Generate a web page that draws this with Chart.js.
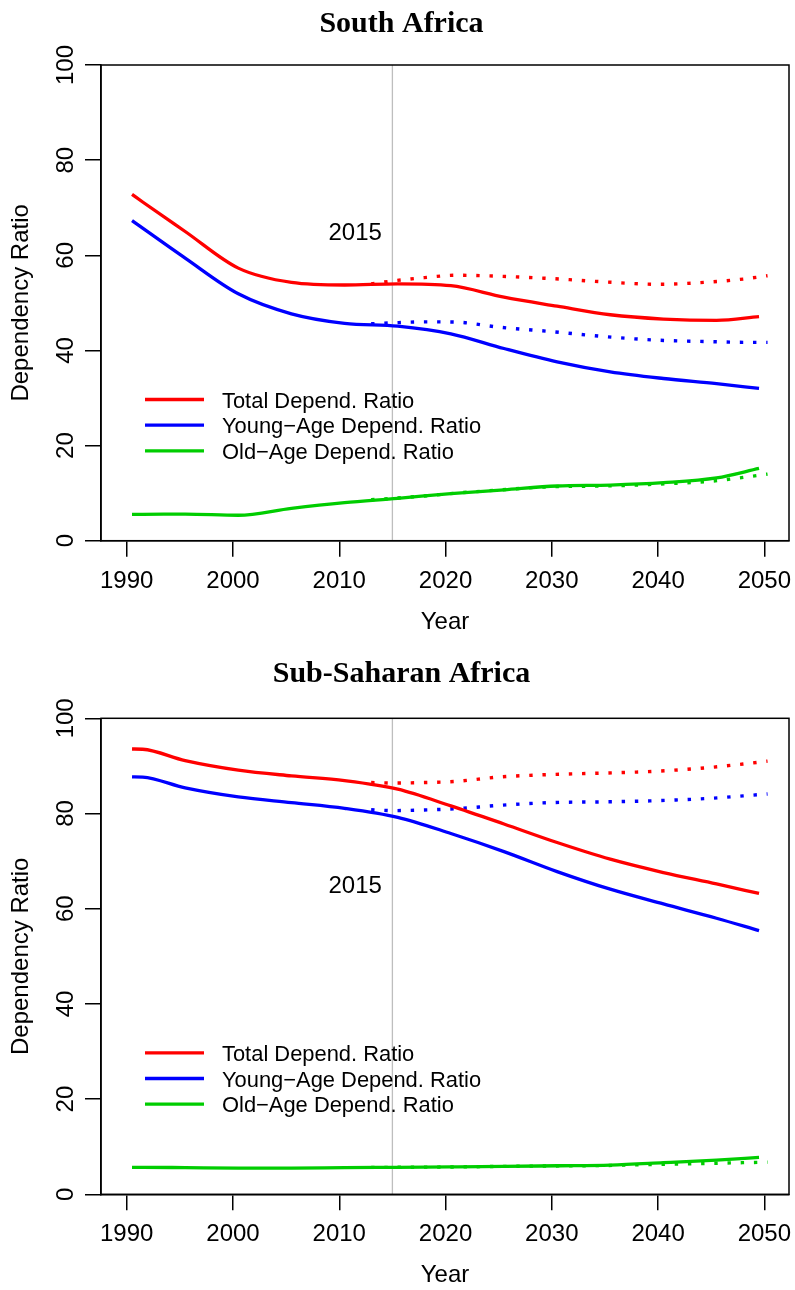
<!DOCTYPE html>
<html>
<head>
<meta charset="utf-8">
<script src="https://cdn.jsdelivr.net/npm/chart.js@4.4.1/dist/chart.umd.min.js"></script>
<style>
  html, body { margin: 0; padding: 0; background: #fff; }
  .wrap { position: relative; width: 795px; height: 645px; }
  canvas { display: block; }
</style>
</head>
<body>
<div class="wrap"><canvas id="saChart" width="795" height="645"></canvas></div>
<div class="wrap"><canvas id="ssaChart" width="795" height="645"></canvas></div>
<script>
const xTicks = [1990, 2000, 2010, 2020, 2030, 2040, 2050];
const yTicks = [0, 20, 40, 60, 80, 100];
const seriesLabels = ["Total Depend. Ratio", "Young\u2212Age Depend. Ratio", "Old\u2212Age Depend. Ratio"];
const seriesColors = ["#FF0000", "#0000FF", "#00CD00"];
const markYear = 2015;
const markLabel = "2015";

const pastYears = [1990.5, 1991.5, 1995.5, 2000.5, 2005.5, 2010.5, 2015.5, 2020.5, 2025.5, 2030.5, 2035.5, 2040.5, 2045.5, 2049.5];
const projYears = [2013, 2015, 2018, 2021, 2025, 2030, 2035, 2040, 2045, 2048, 2050.3];

// South Africa
const saTotal = [72.8, 71.2, 65.0, 57.3, 54.3, 53.75, 54.0, 53.6, 51.2, 49.3, 47.5, 46.6, 46.3, 47.1];
const saYoung = [67.3, 65.7, 59.4, 51.9, 47.7, 45.7, 45.1, 43.5, 40.4, 37.6, 35.5, 34.1, 33.0, 32.0];
const saOld   = [5.55, 5.55, 5.6, 5.35, 6.8, 8.0, 8.9, 9.9, 10.7, 11.5, 11.7, 12.2, 13.2, 15.2];
const saTotalProj = [54.0, 54.6, 55.3, 55.8, 55.6, 55.1, 54.4, 53.9, 54.4, 55.0, 55.7];
const saYoungProj = [45.6, 45.8, 46.0, 45.95, 44.9, 43.95, 42.9, 42.15, 41.85, 41.7, 41.7];
const saOldProj   = [8.6, 8.9, 9.4, 10.0, 10.65, 11.35, 11.5, 11.9, 12.5, 13.3, 14.0];

// Sub-Saharan Africa
const ssaTotal = [93.55, 93.5, 91.1, 89.1, 87.9, 86.9, 85.1, 81.6, 77.8, 73.9, 70.4, 67.6, 65.2, 63.2];
const ssaYoung = [87.7, 87.65, 85.4, 83.5, 82.3, 81.1, 79.2, 75.8, 72.0, 67.8, 64.1, 61.0, 58.0, 55.4];
const ssaOld   = [5.67, 5.67, 5.6, 5.5, 5.5, 5.6, 5.67, 5.75, 5.85, 6.0, 6.15, 6.65, 7.2, 7.75];
const ssaTotalProj = [86.5, 86.4, 86.5, 86.75, 87.65, 88.2, 88.5, 88.9, 89.7, 90.4, 91.0];
const ssaYoungProj = [80.8, 80.6, 80.75, 81.0, 81.7, 82.3, 82.45, 82.7, 83.2, 83.7, 84.1];
const ssaOldProj   = [5.65, 5.67, 5.7, 5.75, 5.85, 5.95, 6.05, 6.3, 6.5, 6.65, 6.75];

const SANS = "'Liberation Sans', Arial, sans-serif";
const SERIF = "'Liberation Serif', 'Times New Roman', serif";

function pts(xs, ys) { return xs.map((x, i) => ({ x: x, y: ys[i] })); }

// extras R draws that Chart.js doesn't: box, rotated y labels, title, 2015 note, legend
const rDecor = {
  id: "rDecor",
  afterDraw(chart, args, o) {
    const c = chart.ctx, ca = chart.chartArea, sx = chart.scales.x, sy = chart.scales.y;
    c.save();
    c.strokeStyle = "#000";
    c.lineWidth = 1.5;
    c.strokeRect(ca.left, ca.top, ca.right - ca.left, ca.bottom - ca.top);

    c.fillStyle = "#000";
    c.font = "24px " + SANS;
    c.textAlign = "center";
    c.textBaseline = "alphabetic";
    yTicks.forEach(v => {
      c.save();
      c.translate(ca.left - 28.5, sy.getPixelForValue(v));
      c.rotate(-Math.PI / 2);
      c.fillText(String(v), 0, 0);
      c.restore();
    });

    c.fillText(markLabel, sx.getPixelForValue(2011.5), sy.getPixelForValue(63.2));

    c.font = "bold 30px " + SERIF;
    c.fillText(o.title, 401.5, o.titleY);

    c.font = "21.9px " + SANS;
    c.textAlign = "left";
    seriesLabels.forEach((lab, i) => {
      const y = ca.top + 334.5 + i * 25.7;
      c.strokeStyle = seriesColors[i];
      c.lineWidth = 3.3;
      c.beginPath();
      c.moveTo(ca.left + 44, y);
      c.lineTo(ca.left + 103, y);
      c.stroke();
      c.fillText(lab, ca.left + 121, y + 8.2);
    });
    c.restore();
  }
};

function makeChart(id, title, lay, past, proj) {
  const ctx = document.getElementById(id).getContext("2d");
  const datasets = [];
  past.forEach((ys, i) => datasets.push({
    label: seriesLabels[i], data: pts(pastYears, ys), borderColor: seriesColors[i],
    borderWidth: 3.3, pointRadius: 0, cubicInterpolationMode: "monotone", fill: false, order: 1
  }));
  proj.forEach((ys, i) => datasets.push({
    label: seriesLabels[i] + " (proj.)", data: pts(projYears, ys), borderColor: seriesColors[i],
    borderWidth: 3.4, borderDash: [3.4, 9.8], pointRadius: 0, cubicInterpolationMode: "monotone", fill: false, order: 2
  }));
  datasets.push({
    label: "mark", data: [{ x: markYear, y: 0 }, { x: markYear, y: 100 }],
    borderColor: "#BEBEBE", borderWidth: 1.3, pointRadius: 0, fill: false, order: 10
  });

  const axisFont = { family: SANS, size: 24 };
  return new Chart(ctx, {
    type: "line",
    data: { datasets },
    plugins: [rDecor],
    options: {
      responsive: false,
      animation: false,
      events: [],
      layout: { padding: { top: lay.top, right: 6, left: 0, bottom: 0 } },
      plugins: {
        legend: { display: false },
        tooltip: { enabled: false },
        rDecor: { title: title, titleY: lay.titleY }
      },
      scales: {
        x: {
          type: "linear", min: 1987.58, max: 2052.32,
          afterBuildTicks: s => { s.ticks = xTicks.map(v => ({ value: v })); },
          afterFit: s => { s.height = lay.xAxisH; s.paddingLeft = 0; s.paddingRight = 0; },
          ticks: { font: axisFont, color: "#000", padding: 10, maxRotation: 0, minRotation: 0, callback: v => String(v) },
          grid: { drawOnChartArea: false, drawTicks: true, tickLength: 16, color: "#000", lineWidth: 1.5 },
          border: { display: true, color: "#000", width: 1.5 },
          title: { display: true, text: "Year", font: axisFont, color: "#000", padding: { top: 0, bottom: lay.xTitlePad } }
        },
        y: {
          min: 0, max: 100,
          afterBuildTicks: s => { s.ticks = yTicks.map(v => ({ value: v })); },
          afterFit: s => { s.width = 101; s.paddingTop = 0; s.paddingBottom = 0; },
          ticks: { display: false },
          grid: { drawOnChartArea: false, drawTicks: true, tickLength: 16, color: "#000", lineWidth: 1.5 },
          border: { display: true, color: "#000", width: 1.5 },
          title: { display: true, text: "Dependency Ratio", font: axisFont, color: "#000", padding: { top: 7, bottom: 0 } }
        }
      }
    }
  });
}

makeChart("saChart", "South Africa",
  { top: 65, xAxisH: 104.3, xTitlePad: 8.7, titleY: 31.5 },
  [saTotal, saYoung, saOld], [saTotalProj, saYoungProj, saOldProj]);
makeChart("ssaChart", "Sub-Saharan Africa",
  { top: 73.3, xAxisH: 95.7, xTitlePad: 0.4, titleY: 37.3 },
  [ssaTotal, ssaYoung, ssaOld], [ssaTotalProj, ssaYoungProj, ssaOldProj]);
</script>
</body>
</html>
